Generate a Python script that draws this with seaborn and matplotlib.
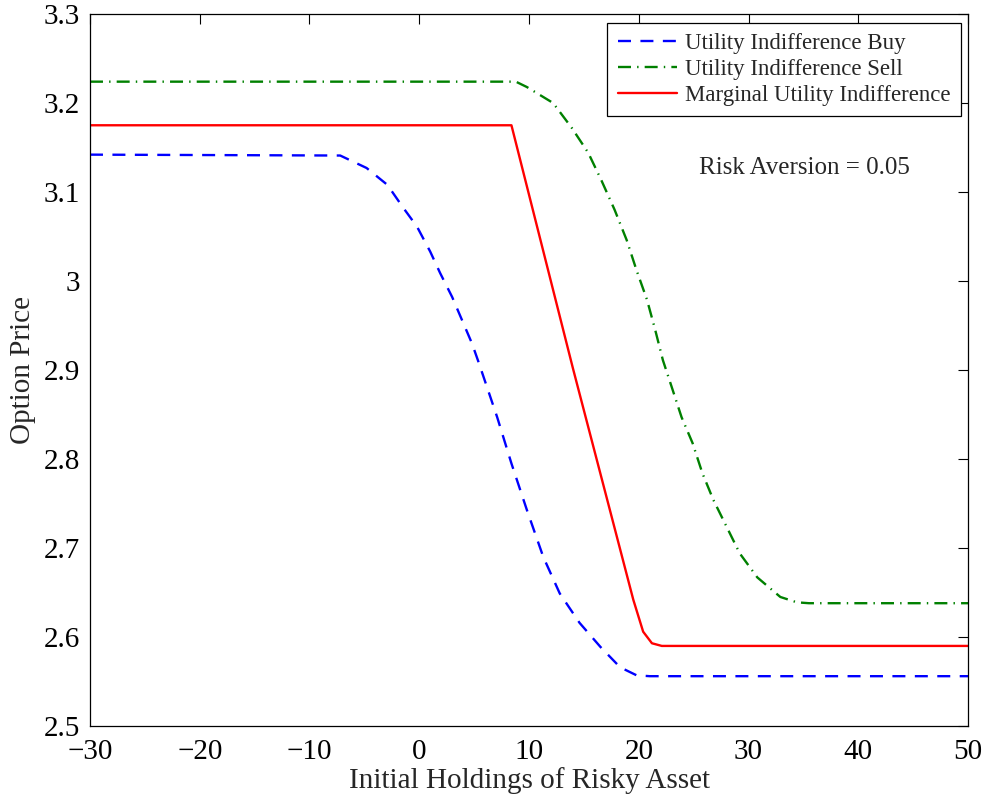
import matplotlib
matplotlib.use("Agg")
import matplotlib.pyplot as plt
import seaborn as sns

# utility indifference buy price
x_buy = [-30, -7.2, -4.8, -2.9, -1.5, -0.2, 1.0, 1.9, 3.0, 3.9, 4.8, 5.4, 7.1,
         8.4, 9.8, 11.3, 12.8, 14.6, 16.5, 18.3, 19.8, 21.0, 50]
y_buy = [3.142, 3.141, 3.127, 3.108, 3.083, 3.061, 3.033, 3.009, 2.982, 2.956,
         2.930, 2.909, 2.847, 2.795, 2.743, 2.690, 2.649, 2.616, 2.589, 2.566,
         2.557, 2.556, 2.556]

# utility indifference sell price
x_sell = [-30, 8.8, 9.8, 12.2, 13.9, 15.4, 16.6, 17.8, 18.9, 19.8, 20.75, 21.5,
          22.2, 23.0, 23.9, 24.9, 25.8, 26.8, 28.0, 29.2, 30.8, 32.9, 34.4,
          35.5, 50]
y_sell = [3.224, 3.224, 3.218, 3.200, 3.172, 3.144, 3.113, 3.080, 3.046, 3.012,
          2.979, 2.945, 2.911, 2.881, 2.847, 2.818, 2.784, 2.754, 2.724, 2.694,
          2.667, 2.645, 2.639, 2.638, 2.638]

# marginal utility indifference price
x_mui = [-30, 8.4, 14.0, 19.5, 20.4, 21.2, 22.1, 50]
y_mui = [3.175, 3.175, 2.902, 2.642, 2.606, 2.593, 2.590, 2.590]

sns.set_style("white")
plt.rcParams['font.family'] = ['Liberation Serif', 'DejaVu Serif']

fig = plt.figure(figsize=(9.9, 8.01), dpi=100)
ax = fig.add_axes([0.0909, 0.0936, 0.8869, 0.8889])

sns.lineplot(x=x_buy, y=y_buy, ax=ax, color='blue', lw=1.7,
             label='Utility Indifference Buy', sort=False)
sns.lineplot(x=x_sell, y=y_sell, ax=ax, color='green', lw=1.7,
             label='Utility Indifference Sell', sort=False)
sns.lineplot(x=x_mui, y=y_mui, ax=ax, color='red', lw=1.7,
             label='Marginal Utility Indifference', sort=False)
ax.lines[0].set_dashes((5.5, 4.0))
ax.lines[1].set_dashes((5.5, 2.6, 0.6, 2.6))

ax.set_xlim(-30, 50)
ax.set_ylim(2.5, 3.3)
ax.set_xticks(range(-30, 51, 10))
ax.set_yticks([2.5, 2.6, 2.7, 2.8, 2.9, 3.0, 3.1, 3.2, 3.3])
ax.set_yticklabels(['2.5', '2.6', '2.7', '2.8', '2.9', '3', '3.1', '3.2', '3.3'])
ax.set_xticklabels(['\u221230', '\u221220', '\u221210', '0', '10', '20', '30', '40', '50'])
ax.tick_params(direction='in', length=7, width=0.8, labelsize=21,
               top=True, right=True, colors='black')
ax.tick_params(axis='x', pad=9)
ax.tick_params(axis='y', pad=7)
for s in ax.spines.values():
    s.set_color('black')
    s.set_linewidth(0.9)

ax.set_xlabel('Initial Holdings of Risky Asset', fontsize=21, labelpad=2)
ax.set_ylabel('Option Price', fontsize=21, labelpad=6)

ax.text(25.5, 3.127, 'Risk Aversion = 0.05', fontsize=18, va='center', ha='left')

leg = ax.legend(loc='upper right', bbox_to_anchor=(0.992, 0.988), fontsize=16.5,
                handlelength=2.6, handletextpad=0.35, borderpad=0.45,
                labelspacing=0.22, fancybox=False, framealpha=1,
                borderaxespad=0)
leg.get_frame().set_edgecolor('black')
leg.get_frame().set_linewidth(0.9)

fig.savefig('out.png', dpi=100)
